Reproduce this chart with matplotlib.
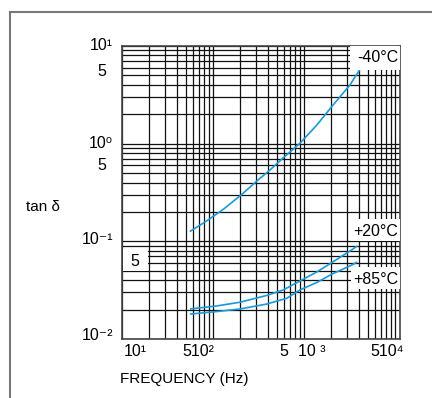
import matplotlib
matplotlib.use("Agg")
import matplotlib.pyplot as plt
from matplotlib.patches import Rectangle
from matplotlib.lines import Line2D

# ---- data ----
freq_m40 = [55.8, 85.3, 130, 207, 328, 423, 588, 903, 1382, 2014, 3199, 4120]
tan_m40 = [0.126, 0.162, 0.213, 0.302, 0.442, 0.538, 0.713, 1.01, 1.55, 2.39, 3.99, 5.77]

freq_p20 = [55.8, 110, 198, 389, 592, 903, 1382, 2099, 3199, 3852]
tan_p20 = [0.0203, 0.0218, 0.0238, 0.0279, 0.0318, 0.0393, 0.0485, 0.0620, 0.0796, 0.0896]

freq_p85 = [55.8, 110, 198, 389, 646, 903, 1382, 2099, 3199, 3852]
tan_p85 = [0.0180, 0.0191, 0.0203, 0.0228, 0.0261, 0.0318, 0.0379, 0.0469, 0.0560, 0.0614]

series_labels = ["-40°C", "+20°C", "+85°C"]
y_tick_labels = ["10¹", "10⁰", "10⁻¹", "10⁻²"]
x_tick_labels = ["10¹", "510²", "5", "10 ³", "510⁴"]

FONT = ["Liberation Sans Narrow", "Liberation Sans", "DejaVu Sans"]
plt.rcParams["font.family"] = FONT

W, H = 432, 398
fig = plt.figure(figsize=(W / 100, H / 100), dpi=100)


def px(x, y):
    return x / W, 1 - y / H


ax = fig.add_axes([122 / W, 1 - 339 / H, 278 / W, 293 / H])
ax.set_xscale("log")
ax.set_yscale("log")
ax.set_xlim(10, 10 ** (4 + 5 / 91))
ax.set_ylim(0.01, 10)
ax.grid(True, which="both", color="#111111", linewidth=0.9)
ax.tick_params(which="both", length=0, labelbottom=False, labelleft=False)
for s in ax.spines.values():
    s.set_color("#444444")
    s.set_linewidth(1.2)

blue = "#1a9ad6"
for fx, ty in [(freq_m40, tan_m40), (freq_p20, tan_p20), (freq_p85, tan_p85)]:
    ax.plot(fx, ty, color=blue, lw=1.2, zorder=3,
            solid_joinstyle="round", solid_capstyle="butt")

fs = 11
# white boxes behind in-plot labels
boxes = [(350, 46, 50, 24), (351, 219, 49, 22), (351, 267, 49, 22), (123, 249, 25, 22)]
for (bx, by, bw, bh) in boxes:
    x0, y0 = px(bx, by + bh)
    ax.add_patch(Rectangle((x0, y0), bw / W, bh / H, transform=fig.transFigure,
                           facecolor="white", edgecolor="none", zorder=4, clip_on=False))

label_pos = [(398, 57), (398, 231), (398, 280)]
for lab, (lx, ly) in zip(series_labels, label_pos):
    fig.text(*px(lx, ly), lab, ha="right", va="center", fontsize=fs + 0.5, zorder=5)

# y tick labels
y_pos = [46, 143, 240, 335]
for lab, yy in zip(y_tick_labels, y_pos):
    fig.text(*px(113, yy), lab, ha="right", va="center", fontsize=fs + 0.5)
fig.text(*px(106, 71), "5", ha="right", va="center", fontsize=fs + 0.5)
fig.text(*px(106, 166), "5", ha="right", va="center", fontsize=fs + 0.5)
fig.text(*px(135, 261), "5", ha="center", va="center", fontsize=fs + 0.5, zorder=5)

# x tick labels
x_pos = [(124, 351), (182, 351), (279, 351), (298, 351), (370, 351)]
for lab, (xx, yy) in zip(x_tick_labels, x_pos):
    fig.text(*px(xx, yy), lab, ha="left", va="center", fontsize=fs + 0.5)

fig.text(*px(120, 379), "FREQUENCY (Hz)", ha="left", va="center", fontsize=fs)
fig.text(*px(26, 207), "tan δ", ha="left", va="center", fontsize=fs)

# outer frame (left and top)
fig.add_artist(Line2D([10 / W, 10 / W], [0, 1 - 12 / H], transform=fig.transFigure,
                      color="#777777", lw=1.5))
fig.add_artist(Line2D([10 / W, 1], [1 - 12 / H, 1 - 12 / H], transform=fig.transFigure,
                      color="#777777", lw=1.5))

fig.savefig("out.png", dpi=100, facecolor="white")
